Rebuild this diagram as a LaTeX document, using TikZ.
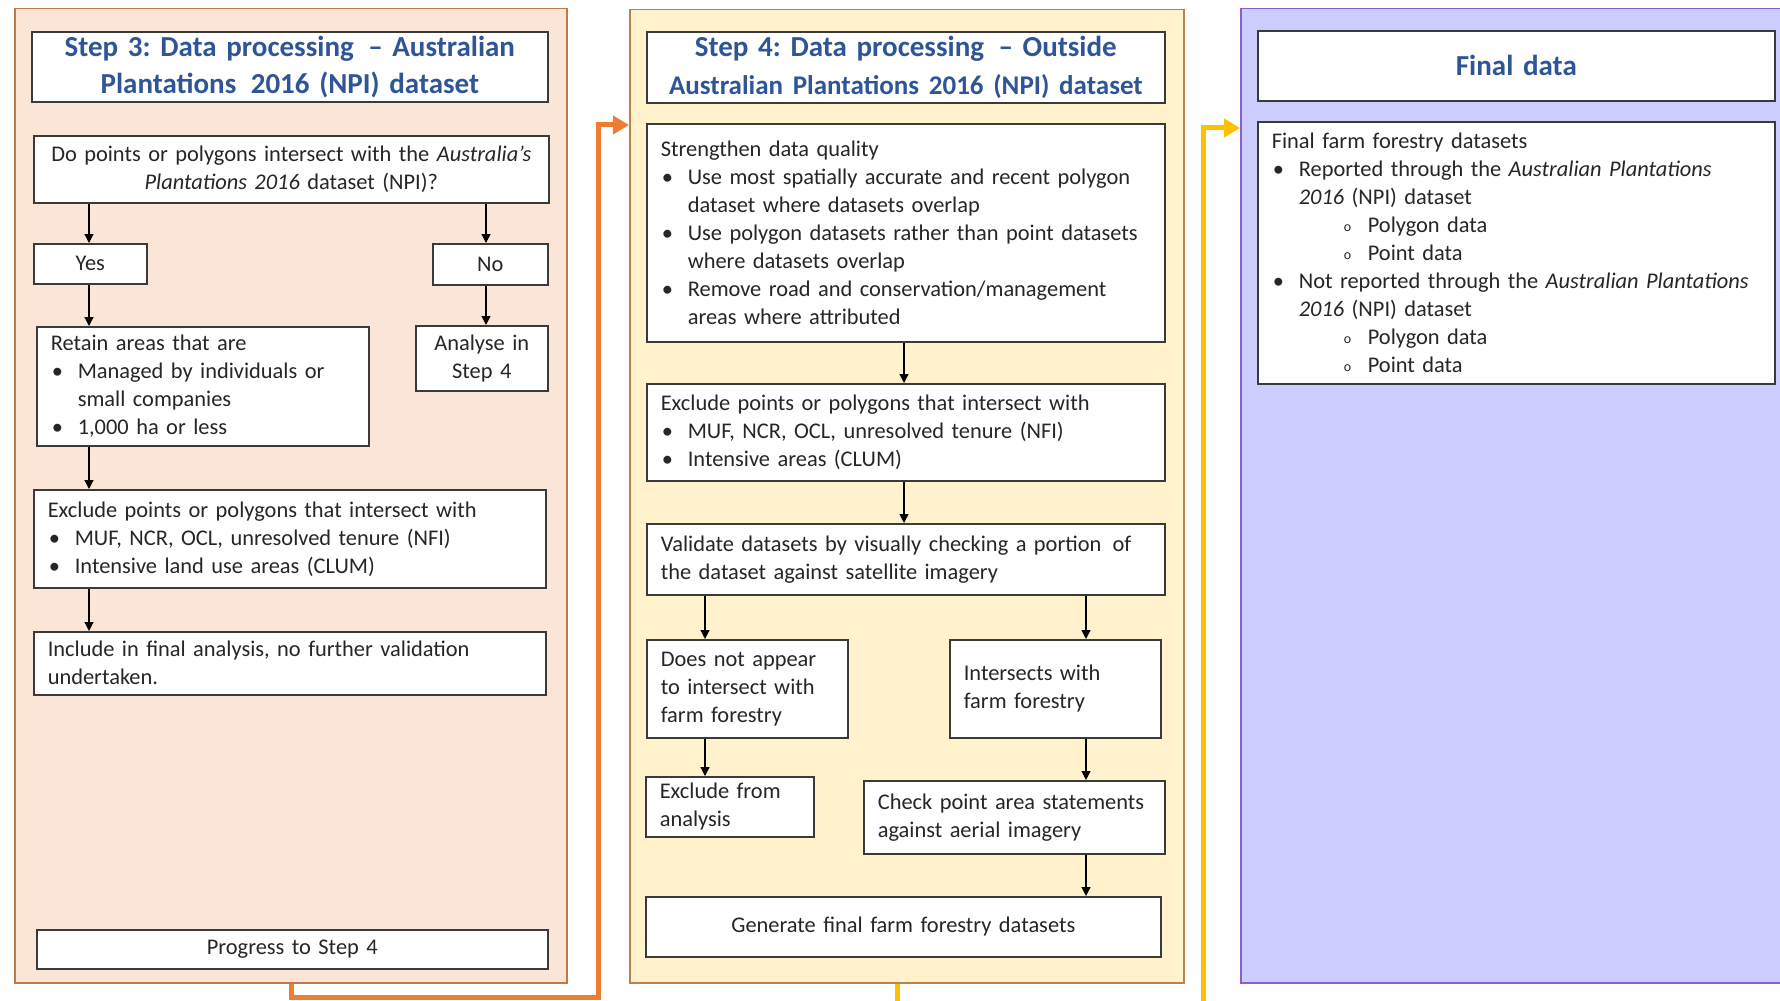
\documentclass[tikz,border=0pt]{standalone}
\usepackage{fontspec}
\setmainfont{Carlito}
\usetikzlibrary{arrows.meta,calc}
\definecolor{sthreefill}{HTML}{FBE5D6}
\definecolor{sthreedraw}{HTML}{BE7A4C}
\definecolor{sfourfill}{HTML}{FFF2CC}
\definecolor{sfourdraw}{HTML}{B8834F}
\definecolor{finfill}{HTML}{CCCCFF}
\definecolor{findraw}{HTML}{8B5FC7}
\definecolor{orangeline}{HTML}{ED7D31}
\definecolor{yellowline}{HTML}{FFC000}
\definecolor{titleblue}{HTML}{2F5597}
\definecolor{boxgray}{HTML}{3A3A3A}
\definecolor{txtgray}{HTML}{262626}
\newcommand\bitem{\par\noindent\hangindent=13.5pt\hangafter=1\makebox[13.5pt][l]{\hspace{0.5pt}\textbullet}}
\newcommand\sitem{\par\noindent\hangindent=48pt\hangafter=1\hspace*{36pt}\makebox[12pt][l]{\raisebox{0.1ex}{\fontsize{7}{7}\selectfont o}}}
\tikzset{
  panel/.style={anchor=north west, inner sep=0pt, line width=0.75pt},
  box/.style={anchor=north west, draw=boxgray, line width=0.8pt, fill=white,
    inner xsep=7pt, inner ysep=0pt, text=txtgray, align=left,
    font=\frenchspacing\fontsize{11.2}{14}\selectfont},
  cbox/.style={box, align=center},
  titlebox/.style={box, align=center, text=titleblue,
    font=\frenchspacing\bfseries\fontsize{14.5}{18.75}\selectfont},
  arr/.style={-{Triangle[length=4.5pt,width=4.5pt]}, line width=0.6pt, black},
  oline/.style={line width=2.5pt, orangeline, -{Triangle[length=8pt,width=9pt]}},
  yline/.style={line width=2.5pt, yellowline, -{Triangle[length=8pt,width=9pt]}}
}
\begin{document}
\frenchspacing
\begin{tikzpicture}[x=0.5pt,y=-0.5pt]
\useasboundingbox (0,0) rectangle (1780,1000);
\clip (0,0) rectangle (1780,1000);
\fill[white] (0,0) rectangle (1780,1000);

% panels
\node[panel, draw=sthreedraw, fill=sthreefill, minimum width=276pt, minimum height=487pt] (S3) at (14,8) {};
\node[panel, draw=sfourdraw, fill=sfourfill, minimum width=277pt, minimum height=486.5pt] (S4) at (629,9) {};
\node[panel, draw=findraw, fill=finfill, minimum width=285pt, minimum height=487pt] (F) at (1240,8) {};

% step 3
\node[titlebox, minimum width=258pt, minimum height=35pt, text width=244pt] (S3t) at (31,31)
  {Step 3: Data processing \,– Australian\\Plantations \,2016 (NPI) dataset};
\node[cbox, minimum width=257.5pt, minimum height=33.5pt, text width=243.5pt] (Q) at (33,135)
  {Do points or polygons intersect with the \textit{Australia’s}\\\textit{Plantations 2016} dataset (NPI)?};
\node[cbox, minimum width=56.5pt, minimum height=20pt, text width=42.5pt] (Yes) at (33,243) {Yes};
\node[cbox, minimum width=57.5pt, minimum height=20.5pt, text width=43.5pt] (No) at (432,243) {No};
\node[box, minimum width=166pt, minimum height=59.5pt, text width=152pt] (Retain) at (36,326)
  {Retain areas that are\bitem Managed by individuals or\newline small companies\bitem 1,000 ha or less\par};
\node[cbox, minimum width=66pt, minimum height=32.5pt, text width=52pt] (Analyse) at (415,325)
  {Analyse in\\Step 4};
\node[box, minimum width=256pt, minimum height=49pt, text width=242pt] (Excl3) at (33,489)
  {Exclude points or polygons that intersect with\bitem MUF, NCR, OCL, unresolved tenure (NFI)\bitem Intensive land use areas (CLUM)\par};
\node[box, minimum width=256pt, minimum height=31.5pt, text width=242pt] (Include) at (33,631)
  {Include in final analysis, no further validation\newline undertaken.};
\node[cbox, minimum width=255.5pt, minimum height=19.5pt, text width=241.5pt] (Progress) at (36,929)
  {Progress to Step 4};

\coordinate (c3l) at (89,0);
\coordinate (c3r) at (486,0);
\draw[arr] (Q.south -| c3l) -- (Yes.north -| c3l);
\draw[arr] (Q.south -| c3r) -- (No.north -| c3r);
\draw[arr] (Yes.south -| c3l) -- (Retain.north -| c3l);
\draw[arr] (No.south -| c3r) -- (Analyse.north -| c3r);
\draw[arr] (Retain.south -| c3l) -- (Excl3.north -| c3l);
\draw[arr] (Excl3.south -| c3l) -- (Include.north -| c3l);

% step 4
\node[titlebox, minimum width=259pt, minimum height=35.5pt, text width=245pt] (S4t) at (646,31)
  {Step 4: Data processing \,– Outside\\{\fontsize{13.5}{18.75}\selectfont Australian Plantations 2016 (NPI) dataset}};
\node[box, minimum width=259pt, minimum height=109pt, text width=245pt] (Strength) at (646,123)
  {Strengthen data quality\bitem Use most spatially accurate and recent polygon\newline dataset where datasets overlap\bitem Use polygon datasets rather than point datasets\newline where datasets overlap\bitem Remove road and conservation/management\newline areas where attributed\par};
\node[box, minimum width=259pt, minimum height=48.5pt, text width=245pt] (Excl4) at (646,383)
  {Exclude points or polygons that intersect with\bitem MUF, NCR, OCL, unresolved tenure (NFI)\bitem Intensive areas (CLUM)\par};
\node[box, minimum width=259pt, minimum height=35.5pt, text width=245pt] (Validate) at (646,523)
  {Validate datasets by visually checking a portion \,of\newline the dataset against satellite imagery};
\node[box, minimum width=100.5pt, minimum height=49pt, text width=86.5pt] (DoesNot) at (646,639)
  {Does not appear\newline to intersect with\newline farm forestry};
\node[box, minimum width=105.5pt, minimum height=49pt, text width=91.5pt] (Inter) at (949,639)
  {Intersects with\newline farm forestry};
\node[box, minimum width=84pt, minimum height=30pt, text width=70pt] (ExclFrom) at (645,776)
  {Exclude from\newline analysis};
\node[box, minimum width=150.5pt, minimum height=36.5pt, text width=136.5pt] (Check) at (863,780)
  {Check point area statements\newline against aerial imagery};
\node[cbox, minimum width=257.5pt, minimum height=30pt, text width=243.5pt] (Generate) at (645,896)
  {Generate final farm forestry datasets};

\coordinate (c4m) at (904,0);
\coordinate (c4l) at (705,0);
\coordinate (c4r) at (1086,0);
\draw[arr] (Strength.south -| c4m) -- (Excl4.north -| c4m);
\draw[arr] (Excl4.south -| c4m) -- (Validate.north -| c4m);
\draw[arr] (Validate.south -| c4l) -- (DoesNot.north -| c4l);
\draw[arr] (Validate.south -| c4r) -- (Inter.north -| c4r);
\draw[arr] (DoesNot.south -| c4l) -- (ExclFrom.north -| c4l);
\draw[arr] (Inter.south -| c4r) -- (Check.north -| c4r);
\draw[arr] (Check.south -| c4r) -- (Generate.north -| c4r);

% final
\node[titlebox, minimum width=258.5pt, minimum height=35pt, text width=244.5pt] (Ft) at (1257,30)
  {Final data};
\node[box, minimum width=258.5pt, minimum height=131pt, text width=244.5pt] (Fbox) at (1257,121)
  {Final farm forestry datasets\bitem Reported through the \textit{Australian Plantations}\newline\textit{2016} (NPI) dataset\sitem Polygon data\sitem Point data\bitem Not reported through the \textit{Australian Plantations}\newline\textit{2016} (NPI) dataset\sitem Polygon data\sitem Point data\par};

% connectors between panels
\coordinate (o1) at (291,997);
\coordinate (o2) at (598,997);
\coordinate (o3) at (598,125);
\draw[oline] (S3.south -| o1) -- (o1) -- (o2) -- (o3) -- (o3 -| S4.west);
\coordinate (y1) at (897,1004);
\coordinate (y2) at (1203,1004);
\coordinate (y3) at (1203,128);
\draw[yline] (S4.south -| y1) -- (y1) -- (y2) -- (y3) -- (y3 -| F.west);
\end{tikzpicture}
\end{document}
